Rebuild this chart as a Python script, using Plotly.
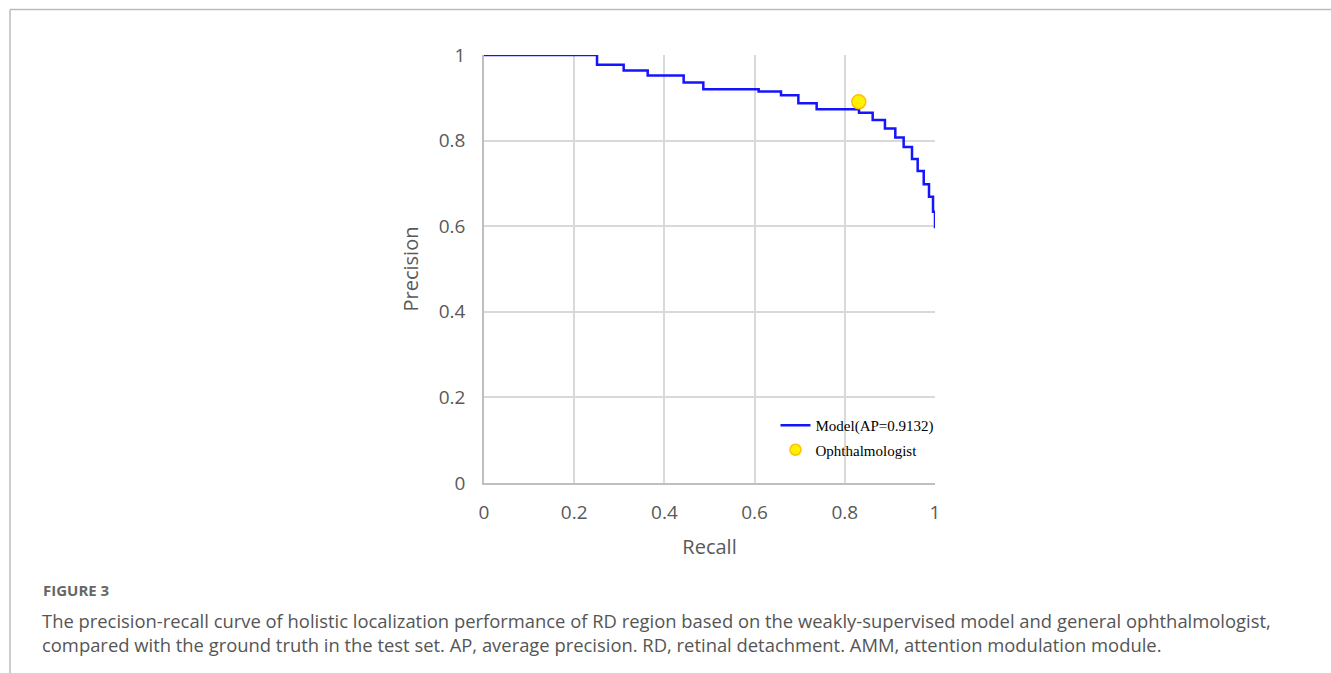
import plotly.graph_objects as go

# ---- data ----
recall = [0.0, 0.2506, 0.3097, 0.3630, 0.4427, 0.4863, 0.6090, 0.6585, 0.6970,
          0.7376, 0.8315, 0.8618, 0.8890, 0.9120, 0.9305, 0.9490, 0.9616,
          0.9750, 0.9867, 0.9956, 1.0]
precision = [1.0, 0.977, 0.964, 0.952, 0.936, 0.920, 0.915, 0.906, 0.887,
             0.873, 0.865, 0.848, 0.828, 0.8075, 0.785, 0.757, 0.729,
             0.698, 0.669, 0.634, 0.595]
oph_recall = [0.831]
oph_precision = [0.891]

model_label = "Model(AP=0.9132)"
oph_label = "Ophthalmologist"
tick_vals = [0, 0.2, 0.4, 0.6, 0.8, 1]
tick_text = ["0", "0.2", "0.4", "0.6", "0.8", "1"]

W, H = 1331, 673
L, R, T, B = 484, 935, 55, 483  # plot area in pixels


def px(x):
    return (x - L) / (R - L)


def py(y):
    return (B - y) / (B - T)


oph_marker = dict(color="#FFF200", line=dict(color="#FFC000", width=1.5))

fig = go.Figure()
fig.add_trace(go.Scatter(
    x=recall, y=precision, mode="lines", line_shape="hv",
    line=dict(color="#1414FF", width=2.5), name=model_label,
))
fig.add_trace(go.Scatter(
    x=oph_recall, y=oph_precision, mode="markers", name=oph_label,
    marker=dict(size=14, **oph_marker), cliponaxis=False, showlegend=False,
    legendgroup="oph",
))
# legend entry for the ophthalmologist (smaller symbol, as in the reference)
fig.add_trace(go.Scatter(
    x=[None], y=[None], mode="markers", name=oph_label,
    marker=dict(size=11, **oph_marker), legendgroup="oph",
))

tick_font = dict(family="Open Sans, sans-serif", size=19, color="#595959")
title_font = dict(family="Open Sans, sans-serif", size=20, color="#595959")

fig.update_xaxes(
    range=[0, 1], tickvals=tick_vals, ticktext=tick_text, tickfont=tick_font,
    showgrid=True, gridcolor="#D9D9D9", gridwidth=1.5, zeroline=False,
    showline=True, linecolor="#BFBFBF", linewidth=1.5, ticks="", ticklabelstandoff=11,
    title=dict(text="Recall", font=title_font, standoff=16),
)
fig.update_yaxes(
    range=[0, 1], tickvals=tick_vals, ticktext=tick_text, tickfont=tick_font,
    showgrid=True, gridcolor="#D9D9D9", gridwidth=1.5, zeroline=False,
    showline=True, linecolor="#BFBFBF", linewidth=1.5, ticks="", ticklabelstandoff=13,
    title=dict(text="Precision", font=title_font, standoff=15),
)

# decorative page frame (top and left rules)
frame = dict(color="#BBBBBB", width=1.5)
fig.add_shape(type="line", xref="paper", yref="paper", x0=px(10), x1=px(W),
              y0=py(9.5), y1=py(9.5), line=frame, layer="below")
fig.add_shape(type="line", xref="paper", yref="paper", x0=px(10), x1=px(10),
              y0=py(9.5), y1=py(H), line=frame, layer="below")

cap_font = dict(family="Open Sans, sans-serif", size=18.4, color="#555555")
fig.add_annotation(xref="paper", yref="paper", x=px(41), y=py(590), xanchor="left",
                   yanchor="middle", showarrow=False, text="<b>FIGURE 3</b>",
                   font=dict(family="Open Sans, sans-serif", size=15, color="#666666"))
fig.add_annotation(xref="paper", yref="paper", x=px(40), y=py(620), xanchor="left",
                   yanchor="middle", showarrow=False, font=cap_font,
                   text="The precision-recall curve of holistic localization performance of RD region based on the weakly-supervised model and general ophthalmologist,")
fig.add_annotation(xref="paper", yref="paper", x=px(40), y=py(644), xanchor="left",
                   yanchor="middle", showarrow=False, font=cap_font,
                   text="compared with the ground truth in the test set. AP, average precision. RD, retinal detachment. AMM, attention modulation module.")

fig.update_layout(
    width=W, height=H,
    margin=dict(l=L, r=W - R, t=T, b=H - B, pad=0),
    paper_bgcolor="white", plot_bgcolor="white",
    showlegend=True,
    legend=dict(x=1.01, xanchor="right", y=py(466), yanchor="bottom",
                bgcolor="rgba(0,0,0,0)", itemwidth=30, tracegroupgap=2,
                font=dict(family="Liberation Serif, Times New Roman, serif", size=15, color="#000000")),
)

fig.write_html("out.html", config={"displayModeBar": False},
               post_script="document.body.style.margin='0px';")
